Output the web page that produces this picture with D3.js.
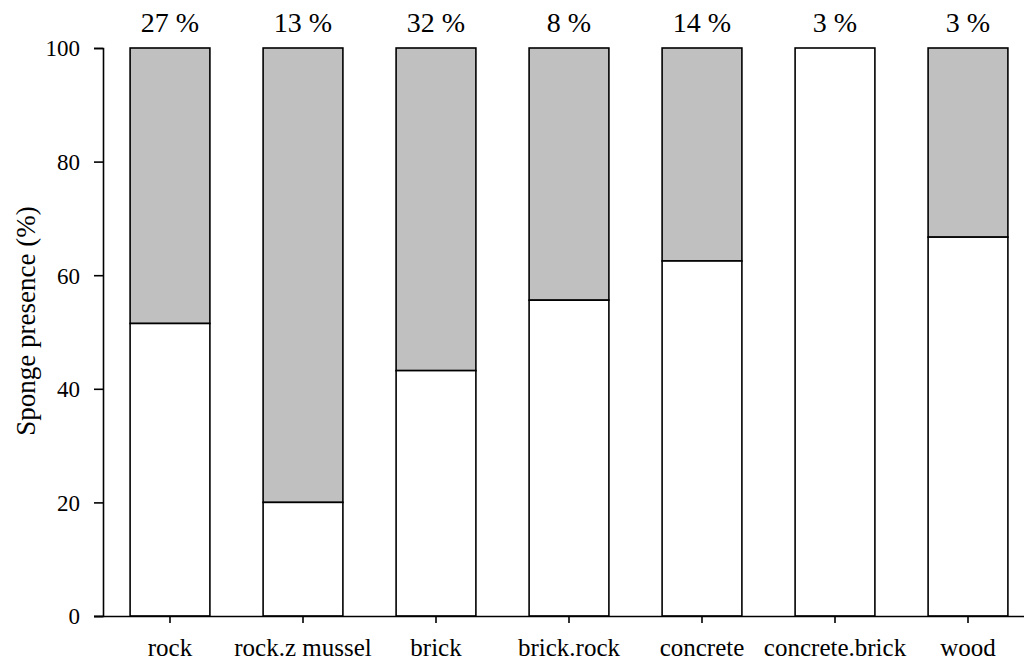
<!DOCTYPE html>
<html>
<head>
<meta charset="utf-8">
<script src="https://cdn.jsdelivr.net/npm/d3@7"></script>
<style>
  body { margin: 0; background: #fff; }
  svg text { font-family: "Liberation Serif", "Times New Roman", serif; fill: #000; }
</style>
</head>
<body>
<svg id="chart" width="1024" height="668"></svg>
<script>
var substrates = ["rock", "rock.z mussel", "brick", "brick.rock", "concrete", "concrete.brick", "wood"];
var presence = [51.5, 20, 43.2, 55.6, 62.5, 100, 66.7];
var shareLabels = ["27 %", "13 %", "32 %", "8 %", "14 %", "3 %", "3 %"];
var yTicks = [0, 20, 40, 60, 80, 100];

var svg = d3.select('#chart');

var x = d3.scaleBand().domain(substrates).range([103.5, 103.5 + 7 * 133])
  .paddingInner(0.4).paddingOuter(0.2);
var y = d3.scaleLinear().domain([0, 100]).range([616, 48]);

var bars = svg.append('g').selectAll('g').data(substrates).join('g');

// grey (absent) part on top
bars.append('rect')
  .attr('x', d => x(d))
  .attr('width', x.bandwidth())
  .attr('y', y(100))
  .attr('height', (d, i) => y(presence[i]) - y(100))
  .attr('fill', '#c0c0c0')
  .attr('stroke', '#000').attr('stroke-width', 1.6);

// white (present) part
bars.append('rect')
  .attr('x', d => x(d))
  .attr('width', x.bandwidth())
  .attr('y', (d, i) => y(presence[i]))
  .attr('height', (d, i) => y(0) - y(presence[i]))
  .attr('fill', '#fff')
  .attr('stroke', '#000').attr('stroke-width', 1.6);

bars.append('text')
  .attr('x', d => x(d) + x.bandwidth() / 2)
  .attr('y', 32)
  .attr('text-anchor', 'middle')
  .attr('font-size', '28px')
  .text((d, i) => shareLabels[i]);

// y axis
var yAxis = svg.append('g')
  .attr('transform', 'translate(103,0)')
  .call(d3.axisLeft(y).tickValues(yTicks).tickSize(9).tickPadding(14));
yAxis.select('.domain').attr('stroke-width', 1.6);
yAxis.selectAll('.tick line').attr('stroke-width', 1.6);
yAxis.selectAll('text').attr('font-size', '23px').attr('dy', '0.34em')
  .style('font-family', '"Liberation Serif", serif');

// x axis
var xAxis = svg.append('g')
  .attr('transform', 'translate(0,616)')
  .call(d3.axisBottom(x).tickSize(7).tickPadding(15).tickSizeOuter(0));
xAxis.select('.domain').attr('d', 'M94,0.5H1024').attr('stroke-width', 1.6);
xAxis.selectAll('.tick line').attr('stroke-width', 1.6);
xAxis.selectAll('text').attr('font-size', '25px')
  .style('font-family', '"Liberation Serif", serif');

svg.append('text')
  .attr('transform', 'translate(35,321) rotate(-90)')
  .attr('text-anchor', 'middle')
  .attr('font-size', '27px')
  .text('Sponge presence (%)');
</script>
</body>
</html>
